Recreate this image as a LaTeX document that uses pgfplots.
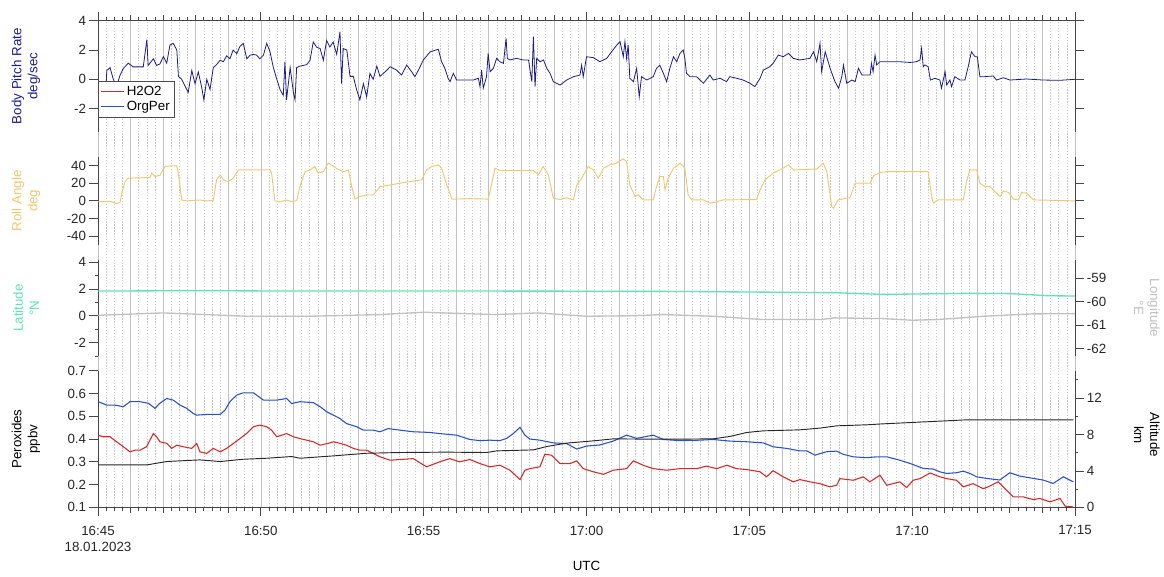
\documentclass[border=0pt]{standalone}
\usepackage{fontspec}
\setmainfont{Liberation Sans}
\usepackage{pgfplots}
\pgfplotsset{compat=1.18}
\definecolor{pitchcol}{RGB}{28,28,140}
\definecolor{rollcol}{RGB}{242,198,110}
\definecolor{latcol}{RGB}{95,228,175}
\definecolor{loncol}{RGB}{192,192,192}
\definecolor{hhcol}{RGB}{214,40,40}
\definecolor{orgcol}{RGB}{40,80,205}
\definecolor{axcol}{RGB}{70,70,70}
\pgfplotsset{
  /pgf/number format/assume math mode=true,
  panel/.style={scale only axis, width=732.75pt, xmin=0, xmax=30,
    anchor=south west, tick align=outside,
    axis line style={-, axcol, line width=0.6pt},
    tick style={axcol, line width=0.6pt},
    major tick length=6.75pt, minor tick length=2.5pt,
    tick label style={font=\fontsize{10}{12}\selectfont, text=black!85},
    label style={font=\fontsize{10}{12}\selectfont},
    yticklabel style={inner sep=2pt},
  },
  minticks/.style={xtick={0,5,...,30}, minor x tick num=19,
    extra x ticks={1,2,3,4,6,7,8,9,11,12,13,14,16,17,18,19,21,22,23,24,26,27,28,29},
    extra x tick labels={},
    extra x tick style={major tick length=4.5pt}},
  leftlab/.style={ylabel style={at={(axis description cs:-0.0737,#1)}, anchor=center, align=center}},
  rightlab/.style={every axis y label/.style={at={(axis description cs:1.0737,#1)}, anchor=center, rotate=-90, align=center}},
}
\begin{document}
\begin{tikzpicture}
\path[use as bounding box] (0,0) rectangle (873pt,432pt);
% background grid
\begin{axis}[scale only axis, width=732.75pt, height=365pt, at={(73.5pt,51.5pt)}, anchor=south west,
  xmin=0, xmax=30, ymin=0, ymax=1, axis line style={draw=none}, tick style={draw=none},
  xtick={0,1,...,30}, minor x tick num=3, ytick=\empty, xticklabels={},
  xmajorgrids, xminorgrids,
  major grid style={black!24, line width=0.5pt},
  minor grid style={black!22, line width=0.45pt, dash pattern=on 1pt off 1.2pt}]
\addplot[draw=none] coordinates {(0,0) (30,1)};
\end{axis}
% panel 1: pitch rate
\begin{axis}[panel, minticks, at={(73.5pt,333.2pt)}, height=83.25pt,
  ymin=-3.58, ymax=4, axis x line*=top, axis y line*=box, xticklabels={},
  ytick={-2,0,2,4}, yticklabel pos=left, ytick pos=both,
  leftlab=0.5, ylabel={Body Pitch Rate\\deg/sec}, ylabel style={text=pitchcol}]
\addplot[color=pitchcol, line width=0.6pt] coordinates {
(0.01,-0.55)(0.06,-0.5)(0.16,-0.5)(0.21,-2.45)(0.27,0.6)(0.37,0.8)(0.47,0.0)(0.57,-0.5)(0.68,0.3)(0.78,0.75)
(0.93,1.1)(1.08,0.85)(1.39,0.85)(1.50,2.7)(1.54,0.95)(1.70,1.4)(1.80,0.95)(1.90,1.05)(2.01,1.55)(2.11,1.1)
(2.21,2.35)(2.31,2.45)(2.42,2.0)(2.47,0.2)(2.57,0.0)(2.67,-0.45)(2.77,-0.9)(2.88,0.6)(2.98,-0.3)(3.08,0.5)
(3.18,-0.5)(3.25,-1.4)(3.34,0.0)(3.44,-0.7)(3.54,0.8)(3.64,1.0)(3.75,1.3)(3.85,1.2)(3.95,1.6)(4.05,1.4)
(4.15,2.0)(4.26,1.75)(4.36,2.25)(4.46,2.45)(4.57,1.4)(4.67,1.65)(4.77,1.7)(4.87,1.65)(4.97,1.4)(5.08,1.65)
(5.18,2.45)(5.28,1.9)(5.38,0.85)(5.49,0.0)(5.59,-0.7)(5.69,-1.1)(5.74,1.2)(5.79,-1.4)(5.90,0.8)(6.00,-0.9)
(6.05,-1.4)(6.10,0.8)(6.20,0.9)(6.41,1.0)(6.51,1.3)(6.61,2.55)(6.71,2.2)(6.82,2.1)(6.92,1.3)(7.02,2.65)
(7.12,2.2)(7.22,2.55)(7.33,1.7)(7.43,3.25)(7.48,-0.3)(7.53,2.1)(7.64,2.0)(7.74,0.2)(7.84,0.2)(7.94,-0.7)
(8.04,-1.4)(8.15,-0.3)(8.25,-1.2)(8.35,0.4)(8.45,0.0)(8.56,0.9)(8.66,0.2)(8.86,0.6)(8.97,0.86)(9.17,0.63)
(9.32,0.29)(9.48,0.97)(9.63,0.52)(9.73,0.18)(9.84,0.63)(9.99,1.32)(10.20,1.88)(10.45,2.05)(10.55,1.2)(10.65,0.75)
(10.75,0.07)(10.81,-0.16)(10.91,0.41)(11.01,-0.05)(11.22,-0.05)(11.52,-0.05)(11.68,0.07)(11.73,-0.5)(11.78,0.63)(11.83,-0.61)
(11.93,0.18)(11.98,1.77)(12.04,0.52)(12.14,0.75)(12.24,1.43)(12.34,1.2)(12.45,1.09)(12.53,2.8)(12.57,1.43)(12.65,1.32)
(12.85,1.43)(13.06,1.32)(13.22,1.32)(13.32,-0.16)(13.37,2.91)(13.42,-0.5)(13.47,1.43)(13.57,1.2)(13.68,1.32)(13.78,0.75)
(13.88,0.41)(13.98,-0.16)(14.08,-0.27)(14.19,-0.39)(14.39,-0.05)(14.60,0.18)(14.80,0.29)(14.85,0.97)(14.90,0.18)(15.00,1.54)
(15.21,1.48)(15.41,1.2)(15.62,1.43)(15.77,1.88)(15.93,2.34)(16.03,2.57)(16.13,1.54)(16.18,2.57)(16.23,1.43)(16.28,2.34)
(16.33,0.07)(16.44,-0.16)(16.54,0.75)(16.62,-1.19)(16.69,0.18)(16.85,-0.05)(17.05,0.18)(17.15,0.75)(17.25,0.97)(17.36,0.41)
(17.46,-0.16)(17.56,0.75)(17.67,1.54)(17.77,1.2)(17.87,1.77)(17.97,2.0)(18.02,1.43)(18.07,0.41)(18.18,0.18)(18.38,0.18)
(18.59,-0.27)(18.79,0.29)(18.89,-0.05)(19.10,0.07)(19.30,-0.16)(19.40,0.18)(19.61,0.07)(19.81,-0.05)(20.02,-0.27)(20.17,-0.5)
(20.33,0.07)(20.43,0.63)(20.63,0.86)(20.73,1.09)(20.89,1.66)(21.04,1.54)(21.20,1.77)(21.35,1.43)(21.55,1.32)(21.86,1.43)
(21.97,1.88)(22.07,1.2)(22.17,2.46)(22.22,0.52)(22.33,1.88)(22.48,0.75)(22.63,-0.16)(22.74,-0.61)(22.84,0.18)(22.89,0.97)
(22.99,-0.27)(23.15,-0.05)(23.25,-0.16)(23.35,0.75)(23.46,0.29)(23.71,0.29)(23.75,1.09)(23.80,0.52)(23.86,1.66)(23.91,0.98)
(24.01,1.2)(24.21,1.2)(24.62,1.2)(24.93,1.15)(25.13,1.2)(25.24,1.32)(25.29,2.12)(25.34,0.86)(25.39,0.98)(25.49,0.86)
(25.56,-0.05)(25.70,0.07)(25.85,-0.05)(25.90,-0.61)(26.01,0.52)(26.06,-0.39)(26.16,-0.05)(26.21,-0.5)(26.31,0.18)(26.47,-0.05)
(26.62,-0.05)(26.72,0.86)(26.82,1.88)(26.93,1.54)(27.00,1.54)(27.08,0.18)(27.23,0.18)(27.49,0.23)(27.59,-0.05)(27.80,0.11)
(28.00,-0.05)(28.51,0.02)(29.02,-0.05)(29.53,-0.07)(30.00,0.0)};
\end{axis}
% panel 2: roll angle
\begin{axis}[panel, at={(73.5pt,248.25pt)}, height=66.2pt,
  ymin=-50, ymax=50, axis x line=none, axis y line*=box,
  ytick={-40,-20,0,20,40}, yticklabel pos=left, ytick pos=both,
  leftlab=0.5, ylabel={Roll Angle\\deg}, ylabel style={text=rollcol}]
\addplot[color=rollcol, line width=0.7pt] coordinates {
(0.0,-1)(0.37,-0.5)(0.57,-3)(0.68,-1.5)(0.73,8.7)(0.83,21.9)(0.93,25.7)(1.60,26.5)(1.65,31.4)(1.75,27.6)
(1.90,29)(2.06,38.9)(2.21,39.6)(2.42,39.6)(2.47,31)(2.57,1)(2.72,0)(3.13,1)(3.34,0)(3.54,0.5)
(3.64,23.8)(3.75,29.5)(3.85,23.8)(4.00,21.9)(4.15,25.7)(4.31,35.1)(4.77,35)(5.28,35.3)(5.33,31.4)(5.43,0)
(5.59,-1)(5.79,1)(5.95,-1)(6.10,0.5)(6.20,16.2)(6.36,33.2)(6.51,35)(6.66,38.9)(6.76,31.4)(6.92,33.2)
(7.07,42.7)(7.22,39.6)(7.33,36.5)(7.53,33)(7.69,35)(7.79,16.2)(7.89,2.2)(8.04,4.9)(8.25,6.8)(8.45,6.5)
(8.66,16.2)(8.97,18)(9.27,20)(9.94,23.8)(10.09,35.1)(10.25,38.9)(10.45,40.8)(10.55,37)(10.71,18)(10.87,1.9)
(11.42,2.5)(11.98,2)(12.04,10.6)(12.19,37)(12.35,34.4)(13.37,34.4)(13.52,29.5)(13.67,38.9)(13.83,29.5)(13.98,3)
(14.19,1.5)(14.39,3.5)(14.60,1)(14.70,18)(14.85,25.7)(15.05,38.9)(15.21,35.1)(15.36,25.7)(15.52,37)(15.72,40.8)
(15.92,42.7)(16.13,47.6)(16.23,44.6)(16.33,18)(16.49,5)(16.59,6.8)(16.74,1.1)(17.05,1.1)(17.15,16.2)(17.25,27.6)
(17.36,27.6)(17.41,12.5)(17.51,25.7)(17.67,37)(17.87,42.7)(18.02,37)(18.12,6.8)(18.23,1.1)(18.59,1.1)(18.79,-2.6)
(18.95,-1.5)(19.20,1.1)(20.22,1.5)(20.33,12.5)(20.48,23.8)(20.73,31.4)(21.04,37)(21.20,40.8)(21.35,35.1)(22.07,36)
(22.27,42.7)(22.38,33)(22.53,-6.4)(22.58,-8.3)(22.73,1.1)(22.99,3)(23.09,3.5)(23.25,20)(23.71,20)(23.81,28.3)
(24.01,32)(24.22,33.2)(25.49,33.2)(25.60,4.9)(25.65,-2.6)(25.80,1.1)(26.57,1.1)(26.67,21.9)(26.77,35.1)(26.98,35.1)
(27.08,20)(27.23,16.2)(27.39,16.2)(27.54,10.6)(27.70,4.9)(27.80,11.3)(27.96,9.5)(28.11,1.9)(28.26,1.1)(28.36,9.4)
(28.51,8.8)(28.72,1.1)(30.00,0)};
\end{axis}
% panel 3: latitude (left)
\begin{axis}[panel, at={(73.5pt,165pt)}, height=72pt,
  ymin=-3, ymax=4.17, axis x line=none, axis y line*=left,
  ytick={-2,0,2,4}, minor ytick={-3,-1,1,3},
  leftlab=0.5, ylabel={Latitude\\°N}, ylabel style={text=latcol}]
\addplot[color=latcol, line width=1pt] coordinates {
(0,1.85)(3,1.88)(6,1.85)(9,1.86)(12,1.85)(15,1.84)(18,1.82)(21.5,1.75)(22.6,1.73)(24.1,1.6)(26.7,1.68)(28,1.66)(29.2,1.5)(30,1.48)};
\end{axis}
% panel 3: longitude (right)
\begin{axis}[panel, at={(73.5pt,165pt)}, height=72pt,
  ymin=-62.31, ymax=-58.23, axis x line=none, axis y line*=right,
  ytick={-62,-61,-60,-59},
  rightlab=0.5, ylabel={Longitude\\°E}, ylabel style={text=loncol}]
\addplot[color=loncol, line width=1pt] coordinates {
(0,-60.58)(2,-60.48)(4.6,-60.62)(6.5,-60.62)(8.66,-60.55)(10,-60.45)(12.2,-60.55)(13.5,-60.48)(15,-60.62)(16.4,-60.6)
(17.35,-60.55)(18.9,-60.62)(20.4,-60.76)(22.2,-60.76)(22.6,-60.69)(24.1,-60.72)(25,-60.79)(25.8,-60.76)(27.2,-60.62)(28.7,-60.52)(30,-60.51)};
\end{axis}
% panel 4: peroxides (left)
\begin{axis}[panel, minticks, at={(73.5pt,51.5pt)}, height=102.45pt,
  ymin=0.1, ymax=0.7, axis x line*=bottom, axis y line*=left,
  ytick={0.1,0.2,0.3,0.4,0.5,0.6,0.7},
  /pgf/number format/fixed, /pgf/number format/precision=1,
  xticklabels={{16:45\\18.01.2023},16:50,16:55,17:00,17:05,17:10,17:15},
  xticklabel style={align=center, yshift=-3.5pt},
  xlabel={UTC}, xlabel style={at={(axis description cs:0.5,0)}, anchor=center, yshift=-44pt},
  leftlab=0.5, ylabel={Peroxides\\ppbv}]
\addplot[draw=hhcol, line width=0.8pt] coordinates {
(0.01,0.417)(0.16,0.410)(0.37,0.410)(0.57,0.388)(0.78,0.366)(0.98,0.344)(1.14,0.351)(1.29,0.351)(1.49,0.366)(1.70,0.424)
(1.80,0.410)(1.90,0.388)(2.11,0.381)(2.26,0.359)(2.42,0.373)(2.62,0.366)(2.88,0.359)(3.03,0.381)(3.13,0.344)(3.34,0.337)
(3.54,0.359)(3.75,0.344)(3.95,0.359)(4.16,0.381)(4.36,0.402)(4.56,0.424)(4.77,0.454)(4.97,0.461)(5.18,0.454)(5.33,0.439)
(5.49,0.410)(5.64,0.417)(5.79,0.424)(6.00,0.410)(6.20,0.402)(6.41,0.395)(6.61,0.388)(6.82,0.373)(7.07,0.381)(7.23,0.388)
(7.43,0.381)(7.63,0.373)(7.84,0.359)(8.04,0.351)(8.25,0.351)(8.45,0.337)(8.66,0.322)(8.97,0.307)(9.27,0.310)(9.68,0.314)
(10.09,0.278)(10.49,0.300)(10.80,0.314)(11.10,0.300)(11.42,0.310)(11.73,0.292)(12.03,0.278)(12.34,0.285)(12.65,0.263)(12.96,0.222)
(13.11,0.263)(13.26,0.270)(13.57,0.278)(13.72,0.333)(13.93,0.329)(14.19,0.292)(14.49,0.292)(14.70,0.304)(14.90,0.270)(15.21,0.256)
(15.52,0.245)(15.82,0.263)(16.23,0.270)(16.44,0.304)(16.74,0.285)(17.05,0.270)(17.46,0.263)(17.87,0.270)(18.38,0.270)(18.68,0.281)
(19.00,0.270)(19.31,0.285)(19.61,0.270)(19.92,0.266)(20.33,0.256)(20.53,0.234)(20.73,0.261)(21.04,0.234)(21.35,0.212)(21.55,0.222)
(21.86,0.212)(22.17,0.204)(22.47,0.190)(22.68,0.197)(22.78,0.226)(23.19,0.219)(23.50,0.234)(23.70,0.212)(24.01,0.241)(24.22,0.197)
(24.62,0.212)(24.83,0.187)(25.03,0.219)(25.24,0.226)(25.55,0.251)(25.85,0.234)(26.06,0.226)(26.36,0.219)(26.57,0.190)(26.87,0.204)
(27.18,0.182)(27.33,0.190)(27.64,0.212)(27.90,0.175)(28.10,0.146)(28.41,0.146)(28.72,0.134)(28.92,0.139)(29.23,0.124)(29.54,0.139)
(29.70,0.105)(29.95,0.102)};
\addplot[draw=orgcol, line width=0.8pt] coordinates {
(0.01,0.564)(0.27,0.549)(0.52,0.549)(0.78,0.542)(0.98,0.564)(1.29,0.564)(1.55,0.557)(1.75,0.535)(1.90,0.557)(2.11,0.578)
(2.31,0.571)(2.52,0.549)(2.72,0.535)(2.93,0.512)(3.03,0.505)(3.34,0.508)(3.75,0.508)(3.90,0.527)(4.05,0.564)(4.26,0.593)
(4.46,0.603)(4.77,0.603)(4.87,0.593)(5.08,0.571)(5.49,0.571)(5.79,0.578)(5.95,0.556)(6.20,0.564)(6.61,0.560)(6.82,0.542)
(7.02,0.520)(7.23,0.505)(7.43,0.490)(7.63,0.468)(7.94,0.454)(8.15,0.439)(8.45,0.439)(8.66,0.432)(8.91,0.446)(9.27,0.439)
(9.68,0.432)(10.19,0.429)(10.49,0.424)(11.01,0.417)(11.42,0.398)(11.73,0.393)(12.03,0.395)(12.34,0.393)(12.55,0.403)(12.75,0.424)
(12.96,0.451)(13.11,0.417)(13.26,0.400)(13.57,0.395)(13.98,0.383)(14.39,0.380)(14.70,0.356)(15.00,0.369)(15.41,0.374)(15.82,0.391)
(16.23,0.417)(16.54,0.403)(17.05,0.417)(17.36,0.398)(17.87,0.393)(18.48,0.395)(18.89,0.398)(19.40,0.391)(19.92,0.388)(20.43,0.383)
(20.73,0.366)(21.14,0.359)(21.55,0.348)(21.76,0.348)(22.02,0.329)(22.17,0.336)(22.37,0.344)(22.68,0.347)(22.88,0.333)(23.19,0.322)
(23.60,0.318)(23.91,0.322)(24.22,0.322)(24.62,0.307)(24.93,0.293)(25.34,0.271)(25.65,0.268)(25.85,0.256)(26.06,0.249)(26.36,0.252)
(26.57,0.259)(26.77,0.249)(26.98,0.234)(27.29,0.227)(27.69,0.220)(28.00,0.252)(28.31,0.237)(28.72,0.227)(29.02,0.220)(29.33,0.205)
(29.64,0.234)(29.95,0.212)};
\end{axis}
% panel 4: altitude (right)
\begin{axis}[panel, at={(73.5pt,51.5pt)}, height=102.45pt,
  ymin=0, ymax=15, axis x line=none, axis y line*=right,
  ytick={0,4,8,12}, minor ytick={2,6,10,14},
  rightlab=0.53, ylabel={Altitude\\km}]
\addplot[draw=black!85, line width=0.7pt] coordinates {
(0,4.66)(1.5,4.66)(2.11,5.03)(2.72,5.14)(3.13,5.21)(3.75,5.03)(4.46,5.28)(5.18,5.39)(5.95,5.58)(6.2,5.39)
(7.23,5.65)(8.25,5.94)(9.27,6.02)(10.71,6.06)(11.93,6.02)(12.24,6.2)(13.37,6.31)(13.78,6.68)(14.39,7.05)(15.21,7.30)
(15.82,7.52)(16.85,7.49)(17.87,7.49)(18.89,7.52)(19.40,7.78)(19.92,8.22)(20.43,8.40)(21.55,8.51)(22.17,8.70)(22.68,8.95)
(23.60,9.06)(24.11,9.17)(25.65,9.43)(26.67,9.61)(29.95,9.61)};
\end{axis}
% legend holder: plain axis on top of everything
\begin{axis}[width=8cm, height=5cm, at={(73.5pt,51.5pt)}, anchor=south west,
  xmin=0, xmax=30, ymin=0, ymax=1, hide axis,
  legend style={at={(0pt,319.5pt)}, anchor=north west,
    draw=black!70, fill=white, font=\fontsize{10}{11}\selectfont,
    inner sep=1.5pt, row sep=-1.5pt},
  legend cell align=left]
\addlegendimage{line legend, draw={rgb,255:red,214;green,40;blue,40}, line width=0.8pt}
\addlegendentry{H2O2}
\addlegendimage{line legend, draw={rgb,255:red,40;green,80;blue,205}, line width=0.8pt}
\addlegendentry{OrgPer}
\addplot[draw=none, forget plot] coordinates {(0,0) (30,1)};
\end{axis}
\end{tikzpicture}
\end{document}
